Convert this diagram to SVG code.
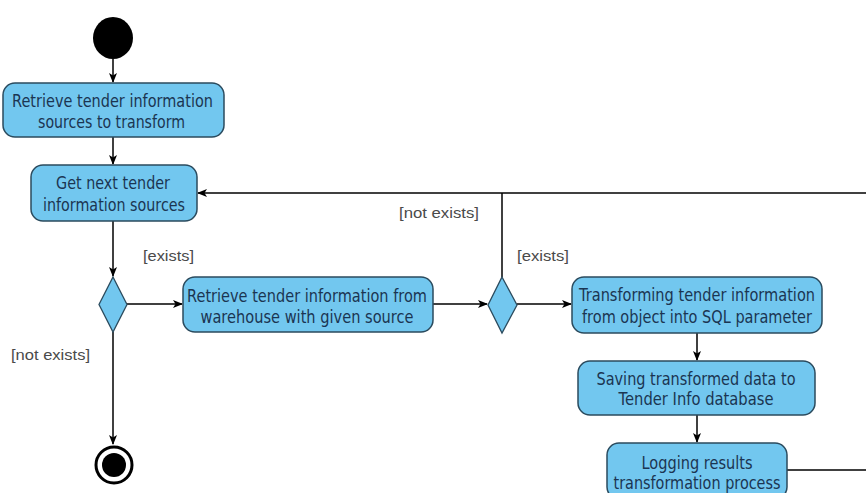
<svg xmlns="http://www.w3.org/2000/svg" width="866" height="493" viewBox="0 0 866 493">
<style>
.act{fill:#72c7ef;stroke:#2b4b5e;stroke-width:1.5}
.dec{fill:#72c7ef;stroke:#2b4b5e;stroke-width:1.3}
.t{font-family:"DejaVu Sans",Verdana,sans-serif;font-size:17px;fill:#1b3552;text-anchor:middle}
.g{font-family:"Liberation Sans",Arial,sans-serif;font-size:15px;fill:#4a4a4a}
.c{fill:none;stroke:#000;stroke-width:1.5}
</style>
<defs>
<marker id="ah" markerWidth="10" markerHeight="10" refX="9" refY="5" orient="auto" markerUnits="userSpaceOnUse">
<path d="M0,1 L10,5 L0,9 L2.5,5 Z" fill="#000"/>
</marker>
</defs>
<g id="connectors">
<line class="c" x1="113" y1="59" x2="113" y2="82" marker-end="url(#ah)"/>
<line class="c" x1="113" y1="137" x2="113" y2="164" marker-end="url(#ah)"/>
<line class="c" x1="113" y1="221" x2="113" y2="276" marker-end="url(#ah)"/>
<line class="c" x1="127" y1="304" x2="182" y2="304" marker-end="url(#ah)"/>
<line class="c" x1="433" y1="304" x2="487" y2="304" marker-end="url(#ah)"/>
<line class="c" x1="517" y1="304" x2="571" y2="304" marker-end="url(#ah)"/>
<polyline class="c" points="502,277 502,193"/>
<line class="c" x1="866" y1="193" x2="198" y2="193" marker-end="url(#ah)"/>
<line class="c" x1="697" y1="333" x2="697" y2="360" marker-end="url(#ah)"/>
<line class="c" x1="697" y1="415" x2="697" y2="442" marker-end="url(#ah)"/>
<line class="c" x1="787" y1="470" x2="866" y2="470"/>
<line class="c" x1="113" y1="332" x2="113" y2="444" marker-end="url(#ah)"/>
<text class="g" x="143" y="261" textLength="51" lengthAdjust="spacingAndGlyphs">[exists]</text>
<text class="g" x="399" y="218" textLength="80" lengthAdjust="spacingAndGlyphs">[not exists]</text>
<text class="g" x="517" y="261" textLength="52" lengthAdjust="spacingAndGlyphs">[exists]</text>
<text class="g" x="11" y="360" textLength="79" lengthAdjust="spacingAndGlyphs">[not exists]</text>
</g>
<g id="start"><ellipse cx="113" cy="38" rx="20" ry="21" fill="#000"/></g>
<g id="retrieveSources">
<rect class="act" x="3" y="83" width="221" height="54" rx="12"/>
<text class="t" x="112.5" y="107" textLength="201" lengthAdjust="spacingAndGlyphs">Retrieve tender information</text>
<text class="t" x="111.5" y="128" textLength="147" lengthAdjust="spacingAndGlyphs">sources to transform</text>
</g>
<g id="getNext">
<rect class="act" x="31" y="165" width="166" height="56" rx="12"/>
<text class="t" x="113" y="189" textLength="114" lengthAdjust="spacingAndGlyphs">Get next tender</text>
<text class="t" x="114" y="211" textLength="142" lengthAdjust="spacingAndGlyphs">information sources</text>
</g>
<g id="decision1"><polygon class="dec" points="113,277 127,304.5 113,332 99,304.5"/></g>
<g id="retrieveWarehouse">
<rect class="act" x="183" y="277" width="250" height="55" rx="12"/>
<text class="t" x="307" y="302" textLength="240" lengthAdjust="spacingAndGlyphs">Retrieve tender information from</text>
<text class="t" x="307" y="323" textLength="213" lengthAdjust="spacingAndGlyphs">warehouse with given source</text>
</g>
<g id="decision2"><polygon class="dec" points="502,277 517,305 502,333 488,305"/></g>
<g id="transforming">
<rect class="act" x="572" y="277" width="250" height="56" rx="12"/>
<text class="t" x="697" y="301" textLength="236" lengthAdjust="spacingAndGlyphs">Transforming tender information</text>
<text class="t" x="697" y="323" textLength="230" lengthAdjust="spacingAndGlyphs">from object into SQL parameter</text>
</g>
<g id="saving">
<rect class="act" x="578" y="361" width="237" height="54" rx="12"/>
<text class="t" x="696" y="385" textLength="199" lengthAdjust="spacingAndGlyphs">Saving transformed data to</text>
<text class="t" x="696" y="405" textLength="155" lengthAdjust="spacingAndGlyphs">Tender Info database</text>
</g>
<g id="logging">
<rect class="act" x="607" y="443" width="180" height="56" rx="12"/>
<text class="t" x="697" y="469" textLength="111" lengthAdjust="spacingAndGlyphs">Logging results</text>
<text class="t" x="697" y="489" textLength="167" lengthAdjust="spacingAndGlyphs">transformation process</text>
</g>
<g id="end">
<circle cx="114" cy="465" r="18" fill="#fff" stroke="#000" stroke-width="3"/>
<circle cx="114" cy="465" r="12" fill="#000"/>
</g>
</svg>
